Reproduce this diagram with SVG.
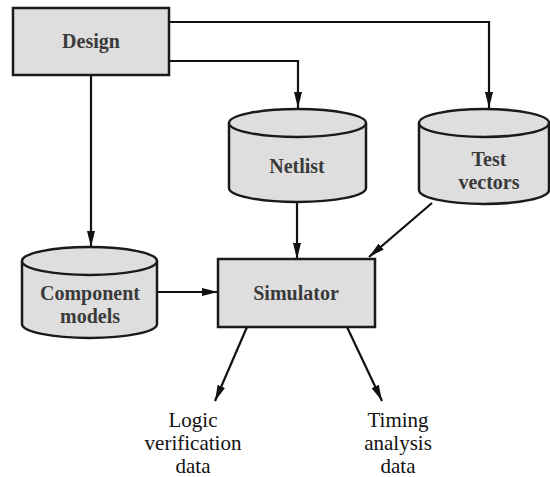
<svg xmlns="http://www.w3.org/2000/svg" width="550" height="477" viewBox="0 0 550 477" font-family="'Liberation Serif', 'Times New Roman', serif">
<defs>
<marker id="ah" viewBox="0 0 16 8" refX="16" refY="4" markerWidth="16" markerHeight="8" markerUnits="userSpaceOnUse" orient="auto">
<path d="M0,0 L16,4 L0,8 Z" fill="#111"/>
</marker>
</defs>
<rect width="550" height="477" fill="#fff"/>
<g id="connectors" stroke="#111" stroke-width="2.2" fill="none" marker-end="url(#ah)">
<path d="M169,22 H489 V108"/>
<path d="M169,61 H298 V108"/>
<path d="M91,75 V247"/>
<path d="M157,292 H218"/>
<path d="M297,202 V259"/>
<path d="M432,203 L369,257"/>
<path d="M247,327 L215,401"/>
<path d="M347,327 L382,401"/>
</g>
<g id="design">
<rect x="13" y="8" width="156" height="67" fill="#dedede" stroke="#1a1a1a" stroke-width="2.5"/>
<text x="91" y="48" fill="#3a3a3a" font-weight="bold" font-size="20" text-anchor="middle">Design</text>
</g>
<g id="netlist">
<path d="M229,123 V188 A68.5,14 0 0 0 366,188 V123" fill="#dedede" stroke="#1a1a1a" stroke-width="2.5"/>
<ellipse cx="297.5" cy="123" rx="68.5" ry="14" fill="#dedede" stroke="#1a1a1a" stroke-width="2.5"/>
<text x="297" y="173" fill="#3a3a3a" font-weight="bold" font-size="20" text-anchor="middle">Netlist</text>
</g>
<g id="testvectors">
<path d="M419,123 V190 A65,14 0 0 0 549,190 V123" fill="#dedede" stroke="#1a1a1a" stroke-width="2.5"/>
<ellipse cx="484" cy="123" rx="65" ry="14" fill="#dedede" stroke="#1a1a1a" stroke-width="2.5"/>
<text x="489" y="166" fill="#3a3a3a" font-weight="bold" font-size="20" text-anchor="middle">Test</text>
<text x="489" y="189" fill="#3a3a3a" font-weight="bold" font-size="20" text-anchor="middle">vectors</text>
</g>
<g id="component">
<path d="M22,261 V324 A67.5,14 0 0 0 157,324 V261" fill="#dedede" stroke="#1a1a1a" stroke-width="2.5"/>
<ellipse cx="89.5" cy="261" rx="67.5" ry="14" fill="#dedede" stroke="#1a1a1a" stroke-width="2.5"/>
<text x="90" y="300" fill="#3a3a3a" font-weight="bold" font-size="20" text-anchor="middle">Component</text>
<text x="90" y="323" fill="#3a3a3a" font-weight="bold" font-size="20" text-anchor="middle">models</text>
</g>
<g id="simulator">
<rect x="218" y="259" width="157" height="68" fill="#dedede" stroke="#1a1a1a" stroke-width="2.5"/>
<text x="296" y="300" fill="#3a3a3a" font-weight="bold" font-size="20" text-anchor="middle">Simulator</text>
</g>
<g id="logic">
<text x="193" y="427" fill="#111" font-size="21" text-anchor="middle">Logic</text>
<text x="193" y="450" fill="#111" font-size="21" text-anchor="middle">verification</text>
<text x="193" y="473" fill="#111" font-size="21" text-anchor="middle">data</text>
</g>
<g id="timing">
<text x="398" y="427" fill="#111" font-size="21" text-anchor="middle">Timing</text>
<text x="398" y="450" fill="#111" font-size="21" text-anchor="middle">analysis</text>
<text x="398" y="473" fill="#111" font-size="21" text-anchor="middle">data</text>
</g>
</svg>
